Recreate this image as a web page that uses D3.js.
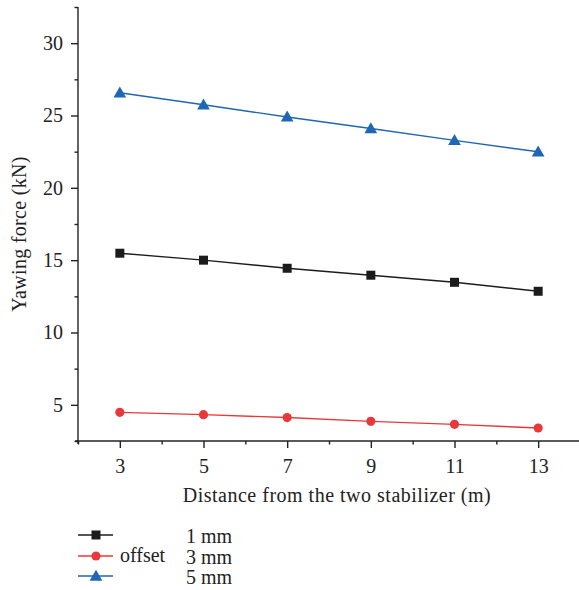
<!DOCTYPE html>
<html>
<head>
<meta charset="utf-8">
<script src="https://cdn.jsdelivr.net/npm/d3@7"></script>
<style>
  body { margin: 0; background: #fff; }
  svg text { font-family: "Liberation Serif", "DejaVu Serif", serif; fill: #222; }
</style>
</head>
<body>
<div id="chart"></div>
<script>
// data
const distances = [3, 5, 7, 9, 11, 13]
const offset1mm = [15.48, 15.0, 14.44, 13.96, 13.47, 12.85]
const offset3mm = [4.48, 4.32, 4.12, 3.86, 3.65, 3.4]
const offset5mm = [26.57, 25.74, 24.9, 24.1, 23.28, 22.49]
const seriesNames = ["1 mm", "3 mm", "5 mm"]
const seriesColors = ["#1c1c1c", "#e8393a", "#1f66b5"]
const seriesShapes = [d3.symbolSquare, d3.symbolCircle, d3.symbolTriangle]
const seriesSizes = [81, 66, 70]
const xMajor = [3, 5, 7, 9, 11, 13]
const xMinor = [2, 4, 6, 8, 10, 12, 14]
const yMajor = [5, 10, 15, 20, 25, 30]
const yMinor = [2.5, 7.5, 12.5, 17.5, 22.5, 27.5, 32.5]

const series = [offset1mm, offset3mm, offset5mm].map((vals, i) => ({
  name: seriesNames[i],
  color: seriesColors[i],
  shape: seriesShapes[i],
  size: seriesSizes[i],
  values: vals.map((v, j) => ({ x: distances[j], y: v }))
}))

const width = 579
const height = 590
const fontSize = "20px"

const svg = d3.select("#chart")
  .append("svg")
  .attr("width", width)
  .attr("height", height)

const x = d3.scaleLinear().domain([2, 14]).range([78, 580])
const y = d3.scaleLinear().domain([2.5, 32.5]).range([441, 7])

// axes
const xAxisMajor = d3.axisBottom(x).tickValues(xMajor).tickSize(7).tickPadding(11)
const xAxisMinor = d3.axisBottom(x).tickValues(xMinor).tickSize(3.5).tickFormat("")
const yAxisMajor = d3.axisLeft(y).tickValues(yMajor).tickSize(7).tickPadding(8)
const yAxisMinor = d3.axisLeft(y).tickValues(yMinor).tickSize(3.5).tickFormat("")

svg.append("g").attr("transform", "translate(0,441)").call(xAxisMinor)
  .call(g => g.select(".domain").remove())
const gx = svg.append("g").attr("transform", "translate(0,441)").call(xAxisMajor)
gx.select(".domain").attr("d", "M75,0H580")

svg.append("g").attr("transform", "translate(78,0)").call(yAxisMinor)
  .call(g => g.select(".domain").remove())
const gy = svg.append("g").attr("transform", "translate(78,0)").call(yAxisMajor)
gy.select(".domain").attr("d", "M0,7V444")

svg.selectAll(".tick line, .domain")
  .attr("stroke", "#222")
  .attr("stroke-width", 1.4)
svg.selectAll(".tick text")
  .style("font-size", fontSize)
  .attr("fill", "#222")

// axis titles
svg.append("text")
  .attr("x", 337)
  .attr("y", 502)
  .attr("text-anchor", "middle")
  .style("font-size", fontSize)
  .style("letter-spacing", "0.5px")
  .text("Distance from the two stabilizer (m)")

svg.append("text")
  .attr("transform", "translate(26,234) rotate(-90)")
  .attr("text-anchor", "middle")
  .style("font-size", fontSize)
  .style("letter-spacing", "0.3px")
  .text("Yawing force (kN)")

// lines
const line = d3.line().x(d => x(d.x)).y(d => y(d.y))

svg.selectAll(".series")
  .data(series)
  .join("path")
  .attr("class", "series")
  .attr("d", d => line(d.values))
  .attr("fill", "none")
  .attr("stroke", d => d.color)
  .attr("stroke-width", 1.4)

// markers
series.forEach(s => {
  svg.append("g")
    .selectAll("path")
    .data(s.values)
    .join("path")
    .attr("transform", d => `translate(${x(d.x)},${y(d.y) + (s.shape === d3.symbolTriangle ? 1 : 0)})`)
    .attr("d", d3.symbol().type(s.shape).size(s.size))
    .attr("fill", s.color)
})

// legend
const legendY = [535, 556, 576]
const legend = svg.append("g")
series.forEach((s, i) => {
  legend.append("line")
    .attr("x1", 78).attr("x2", 113)
    .attr("y1", legendY[i]).attr("y2", legendY[i])
    .attr("stroke", s.color)
    .attr("stroke-width", 1.4)
  legend.append("path")
    .attr("transform", `translate(96,${legendY[i] + (s.shape === d3.symbolTriangle ? 1 : 0)})`)
    .attr("d", d3.symbol().type(s.shape).size(s.size))
    .attr("fill", s.color)
  legend.append("text")
    .attr("x", 186)
    .attr("y", [543, 564, 584][i])
    .style("font-size", fontSize)
    .text(s.name)
})
legend.append("text")
  .attr("x", 120)
  .attr("y", 562)
  .style("font-size", fontSize)
  .text("offset")
</script>
</body>
</html>
